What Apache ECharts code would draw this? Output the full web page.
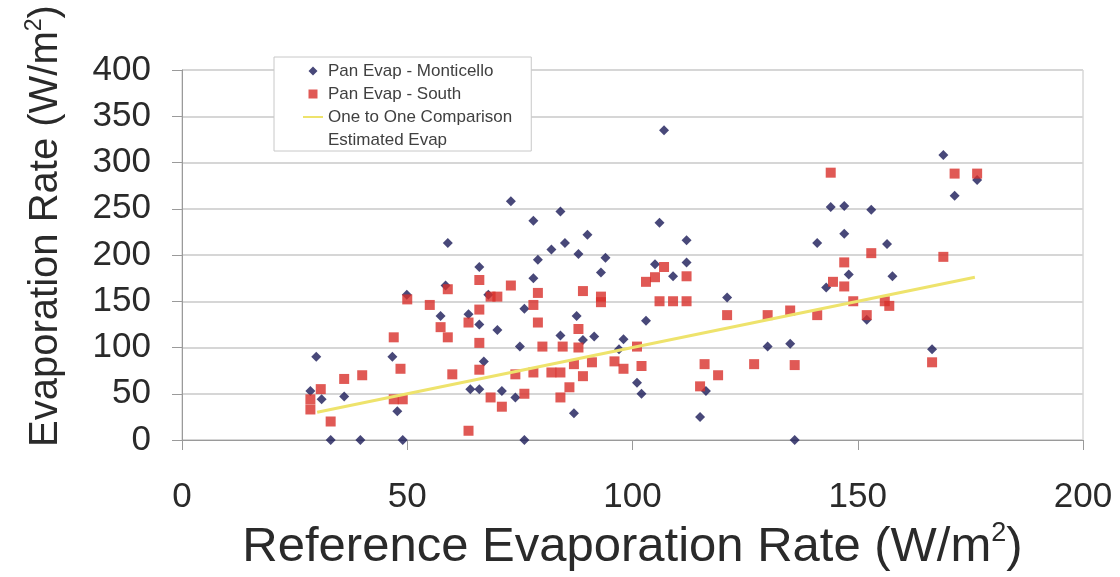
<!DOCTYPE html>
<html>
<head>
<meta charset="utf-8">
<title>Pan Evaporation vs Reference Evaporation</title>
<script src="https://cdn.jsdelivr.net/npm/echarts@6/dist/echarts.min.js"></script>
<style>
  html, body { margin: 0; padding: 0; background: #fff; }
  #chart { width: 1120px; height: 577px; }
</style>
</head>
<body>
<div id="chart"></div>
<script>
// Reference evaporation (x) and pan evaporation (y), W/m2
const monticelloRef = [29.8, 28.5, 31, 36, 33, 39.6, 49, 46.7, 47.8, 49.9,
  57.4, 73, 59, 78, 84, 82, 85, 79, 66, 78,
  58.5, 68, 76, 63.6, 66, 70, 75, 84, 67, 64,
  66, 71, 74, 76, 107, 106, 90, 88, 94, 112,
  93, 105, 112, 109, 103, 87.6, 91.5, 89, 98, 97,
  101, 102, 87, 115, 144, 141, 143, 121, 130, 135,
  116.3, 136, 169, 171.5, 176.5, 147, 153, 147, 156.5, 148,
  157.7, 152, 166.5];
const monticelloPan = [90, 53, 44, 47, 0, 0, 0, 90, 31, 157,
  134, 258, 213, 237, 247, 206, 213, 195, 187, 175,
  167, 157, 142, 136, 125, 119, 101, 113, 85, 55,
  55, 53, 46, 0, 335, 235, 222, 201, 197, 216,
  181, 190, 192, 177, 129, 134, 112, 108, 109, 98,
  62, 50, 29, 25, 252, 213, 165, 154, 101, 104,
  53, 0, 308, 264, 281, 253, 249, 223, 212, 179,
  177, 130, 98];

const southRef = [30.8, 28.5, 28.5, 33, 36, 40, 47, 48.5, 47, 49,
  50, 55, 57.4, 59, 59, 66, 73, 68.5, 70, 66,
  63.6, 66, 79, 78, 79, 80, 60, 66, 74, 78,
  82, 84, 68.5, 71, 76, 84, 63.6, 89, 93, 93,
  103, 105, 107, 112, 106, 109, 112, 88, 84.5, 88,
  101, 87, 91, 96, 98, 102, 89, 86, 115, 121,
  130, 135, 141, 116, 119, 127, 136, 144, 171.5, 176.5,
  153, 147, 169, 144.5, 147, 149, 156, 157, 152, 166.5];
const southPan = [55, 44, 33, 20, 66, 70, 111, 77, 44, 44,
  152, 146, 122, 163, 111, 173, 167, 155, 155, 141,
  127, 105, 159, 146, 127, 101, 71, 76, 71, 73,
  73, 73, 46, 36, 50, 46, 10, 161, 155, 149,
  171, 176, 187, 177, 150, 150, 150, 120, 101, 100,
  101, 82, 84, 85, 77, 80, 69, 57, 58, 135,
  135, 140, 135, 82, 70, 82, 81, 289, 288, 288,
  202, 192, 198, 171, 166, 150, 150, 145, 135, 84];

// 1:1 reference line endpoints
const oneToOneRef = [30, 176];

const seriesNames = ['Pan Evap - Monticello', 'Pan Evap - South', 'One to One Comparison', 'Estimated Evap'];
const xTitle = 'Reference Evaporation Rate (W/m{sup|2})';
const yTitle = 'Evaporation Rate (W/m{sup|2})';

const zip = (xs, ys) => xs.map((x, i) => [x, ys[i]]);

const FONT = "'Liberation Sans', Arial, Helvetica, sans-serif";
const TEXT = '#2a2a2a';
const AXIS = '#9a9a9a';
const NAVY = '#1a1a58';
const RED = '#d8302a';
const YELLOW = '#eee36c';

// legend glyphs: small marker centred in a 20x9 box (corner dots fix the box extent)
const BOX = 'M0,0L0.01,0L0.01,0.01ZM20,9L19.99,9L19.99,8.99Z';
const legendDiamond = 'path://' + BOX + 'M10,0L14.5,4.5L10,9L5.5,4.5Z';
const legendSquare = 'path://' + BOX + 'M5.5,0L14.5,0L14.5,9L5.5,9Z';
const legendLine = 'path://' + BOX + 'M0,3.5L20,3.5L20,5.5L0,5.5Z';

const chart = echarts.init(document.getElementById('chart'), null, { renderer: 'canvas' });

chart.setOption({
  animation: false,
  backgroundColor: '#ffffff',
  grid: {
    left: 182, right: 37, top: 70, bottom: 136,
    show: true, borderColor: '#c4c4c4', borderWidth: 1, backgroundColor: 'transparent'
  },
  xAxis: {
    type: 'value', min: 0, max: 200, interval: 50,
    name: xTitle, nameLocation: 'middle', nameGap: 80,
    nameTextStyle: {
      fontFamily: FONT, fontSize: 49, color: TEXT,
      rich: { sup: { fontFamily: FONT, fontSize: 27, color: TEXT, padding: [0, 0, 28, 0] } }
    },
    axisLine: { show: true, lineStyle: { color: AXIS, width: 1 } },
    axisTick: { show: true, length: 10, lineStyle: { color: AXIS } },
    axisLabel: { fontFamily: FONT, fontSize: 35, color: TEXT, margin: 40 },
    splitLine: { show: false }
  },
  yAxis: {
    type: 'value', min: 0, max: 400, interval: 50,
    name: yTitle, nameLocation: 'middle', nameGap: 114, nameRotate: 90,
    nameTextStyle: {
      fontFamily: FONT, fontSize: 40, color: TEXT, padding: [0, 0, 0, 58],
      rich: { sup: { fontFamily: FONT, fontSize: 23, color: TEXT, padding: [0, 0, 22, 0] } }
    },
    axisLine: { show: true, lineStyle: { color: AXIS, width: 1 } },
    axisTick: { show: true, length: 10, lineStyle: { color: AXIS } },
    axisLabel: { fontFamily: FONT, fontSize: 35, color: TEXT, margin: 31 },
    splitLine: { show: true, lineStyle: { color: '#d6d6d6', width: 2 } }
  },
  legend: {
    orient: 'vertical', left: 274, top: 57,
    padding: [5, 19, 2, 29],
    itemWidth: 20, itemHeight: 9, itemGap: 5,
    backgroundColor: '#ffffff', borderColor: '#c8c8c8', borderWidth: 1,
    textStyle: { fontFamily: FONT, fontSize: 17, color: '#404040', lineHeight: 18 },
    data: [
      { name: seriesNames[0], icon: legendDiamond },
      { name: seriesNames[1], icon: legendSquare },
      { name: seriesNames[2], icon: legendLine, itemStyle: { color: YELLOW } },
      { name: seriesNames[3], icon: 'circle', itemStyle: { opacity: 0 } }
    ]
  },
  series: [
    {
      name: seriesNames[0], type: 'scatter', symbol: 'diamond', symbolSize: 10,
      itemStyle: { color: NAVY },
      data: zip(monticelloRef, monticelloPan)
    },
    {
      name: seriesNames[1], type: 'scatter', symbol: 'rect', symbolSize: 10,
      itemStyle: { color: RED },
      data: zip(southRef, southPan)
    },
    {
      name: seriesNames[2], type: 'line', symbol: 'none',
      lineStyle: { color: YELLOW, width: 3 },
      itemStyle: { color: YELLOW },
      data: zip(oneToOneRef, oneToOneRef)
    },
    {
      name: seriesNames[3], type: 'scatter', symbolSize: 0,
      itemStyle: { color: 'rgba(0,0,0,0)' },
      data: []
    }
  ]
});
</script>
</body>
</html>
